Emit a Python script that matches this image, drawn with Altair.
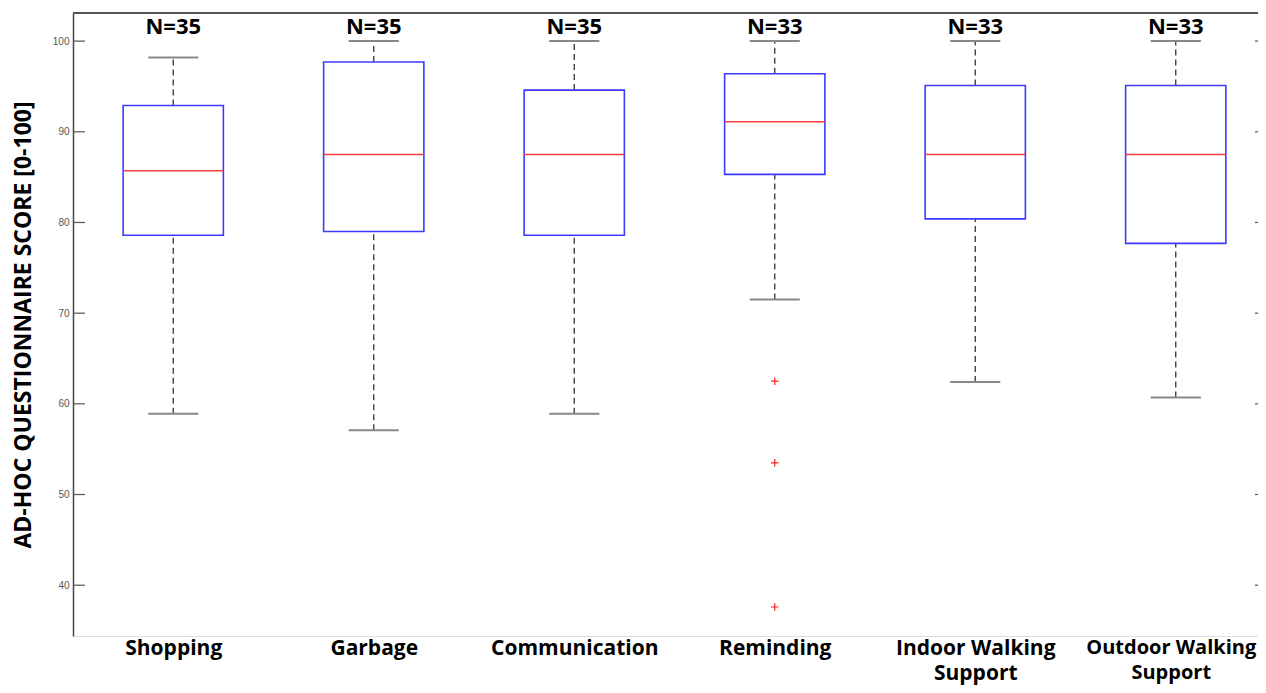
import json
import altair as alt
import pandas as pd

# ---- data ----
categories = ["Shopping", "Garbage", "Communication", "Reminding",
              "Indoor Walking Support", "Outdoor Walking Support"]
label_lines = [["Shopping"], ["Garbage"], ["Communication"], ["Reminding"],
               ["Indoor Walking", "Support"], ["Outdoor Walking", "Support"]]
n_values = [35, 35, 35, 33, 33, 33]
whisker_low = [58.9, 57.1, 58.9, 71.5, 62.4, 60.7]
q1 = [78.6, 79.0, 78.6, 85.3, 80.4, 77.7]
median = [85.7, 87.5, 87.5, 91.1, 87.5, 87.5]
q3 = [92.9, 97.7, 94.6, 96.4, 95.1, 95.1]
whisker_high = [98.2, 100.0, 100.0, 100.0, 100.0, 100.0]
outlier_category = ["Reminding", "Reminding", "Reminding"]
outlier_values = [62.5, 53.5, 37.6]
y_ticks = [40, 50, 60, 70, 80, 90, 100]

W = 1185
H = 623
Y_DOMAIN = [34.4, 103.1]
X_DOMAIN = [0.5, 0.5 + W / 200.5]
NCAT = len(categories)

df = pd.DataFrame({
    "cat": categories,
    "pos": list(range(1, NCAT + 1)),
    "n": ["N=%d" % n for n in n_values],
    "lo": whisker_low, "q1": q1, "med": median, "q3": q3, "hi": whisker_high,
})
pos_of = {c: i + 1 for i, c in enumerate(categories)}
df_out = pd.DataFrame({"pos": [pos_of[c] for c in outlier_category],
                       "v": outlier_values})
df_ticks = pd.DataFrame({"v": y_ticks})

yscale = alt.Scale(domain=Y_DOMAIN, nice=False, zero=False)
xscale = alt.Scale(domain=X_DOMAIN, nice=False, zero=False)

label_js = json.dumps(label_lines)
xaxis = alt.Axis(
    values=list(range(1, NCAT + 1)),
    labelExpr="%s[datum.value - 1]" % label_js,
    ticks=False, grid=False, title=None,
    domainColor="#dddddd", domainWidth=1,
    labelFont="Open Sans", labelFontWeight="bold",
    labelFontSize={"expr": "datum.value == %d ? 20 : 21" % NCAT},
    labelOffset={"expr": "datum.value == %d ? -5 : 0" % NCAT},
    labelColor="#000000", labelPadding=1, labelLineHeight=25,
    labelBaseline="top", labelBound=False, labelOverlap=False,
)
yaxis = alt.Axis(
    values=y_ticks, ticks=False, grid=False,
    title="AD-HOC QUESTIONNAIRE SCORE [0-100]",
    titleFont="Open Sans", titleFontWeight="bold", titleFontSize=23,
    titleColor="#000000", titleAngle=270, titleX=-50, titleY=H / 2,
    titleAlign="center", titleBaseline="middle",
    labelFont="Liberation Sans", labelFontSize=10, labelColor="#555555",
    labelPadding=4, domainColor="#444444", domainWidth=1.5,
)

base = alt.Chart(df)

whisk_hi = base.mark_rule(color="#333333", strokeWidth=1.3, strokeDash=[6, 4]).encode(
    x=alt.X("pos:Q", scale=xscale, axis=xaxis),
    y=alt.Y("q3:Q", scale=yscale, axis=yaxis),
    y2="hi:Q",
)
whisk_lo = base.mark_rule(color="#333333", strokeWidth=1.3, strokeDash=[6, 4]).encode(
    x=alt.X("pos:Q", scale=xscale),
    y=alt.Y("lo:Q", scale=yscale),
    y2="q1:Q",
)
caps_hi = base.transform_calculate(a="datum.pos - 0.125", b="datum.pos + 0.125").mark_rule(
    color="#888888", strokeWidth=2).encode(
    x=alt.X("a:Q", scale=xscale), x2="b:Q", y=alt.Y("hi:Q", scale=yscale))
caps_lo = base.transform_calculate(a="datum.pos - 0.125", b="datum.pos + 0.125").mark_rule(
    color="#888888", strokeWidth=2).encode(
    x=alt.X("a:Q", scale=xscale), x2="b:Q", y=alt.Y("lo:Q", scale=yscale))
boxes = base.transform_calculate(a="datum.pos - 0.25", b="datum.pos + 0.25").mark_rect(
    fill="#ffffff", stroke="#3b3bff", strokeWidth=1.6).encode(
    x=alt.X("a:Q", scale=xscale), x2="b:Q",
    y=alt.Y("q1:Q", scale=yscale), y2="q3:Q")
meds = base.transform_calculate(a="datum.pos - 0.25", b="datum.pos + 0.25").mark_rule(
    color="#ff3b3b", strokeWidth=1.5).encode(
    x=alt.X("a:Q", scale=xscale), x2="b:Q", y=alt.Y("med:Q", scale=yscale))
ntext = base.mark_text(font="Open Sans", fontWeight="bold", fontSize=22,
                       color="#000000", baseline="middle", align="center").encode(
    x=alt.X("pos:Q", scale=xscale), y=alt.value(14), text="n:N")
outs = alt.Chart(df_out).mark_point(
    shape="M-1,0L1,0M0,-1L0,1", size=55, filled=False, stroke="#ff2020",
    strokeWidth=1.2, opacity=1).encode(
    x=alt.X("pos:Q", scale=xscale), y=alt.Y("v:Q", scale=yscale))
ticks_l = alt.Chart(df_ticks).mark_rule(color="#555555", strokeWidth=1.2).encode(
    x=alt.value(0), x2=alt.value(12), y=alt.Y("v:Q", scale=yscale))
ticks_r = alt.Chart(df_ticks).mark_rule(color="#555555", strokeWidth=1.2).encode(
    x=alt.value(W - 3), x2=alt.value(W), y=alt.Y("v:Q", scale=yscale))
top_line = alt.Chart(df_ticks).mark_rule(color="#555555", strokeWidth=1.5).encode(
    x=alt.value(0), x2=alt.value(W), y=alt.value(0))

chart = alt.layer(
    whisk_hi, whisk_lo, caps_hi, caps_lo, boxes, meds, outs, ntext,
    ticks_l, ticks_r, top_line,
).properties(
    width=W, height=H,
    autosize=alt.AutoSizeParams(type="none"),
    padding={"left": 65, "top": 5, "right": 0, "bottom": 49},
    background="#ffffff",
).configure_view(stroke=None)

chart.save("out.html", embed_options={"renderer": "svg", "actions": False})
